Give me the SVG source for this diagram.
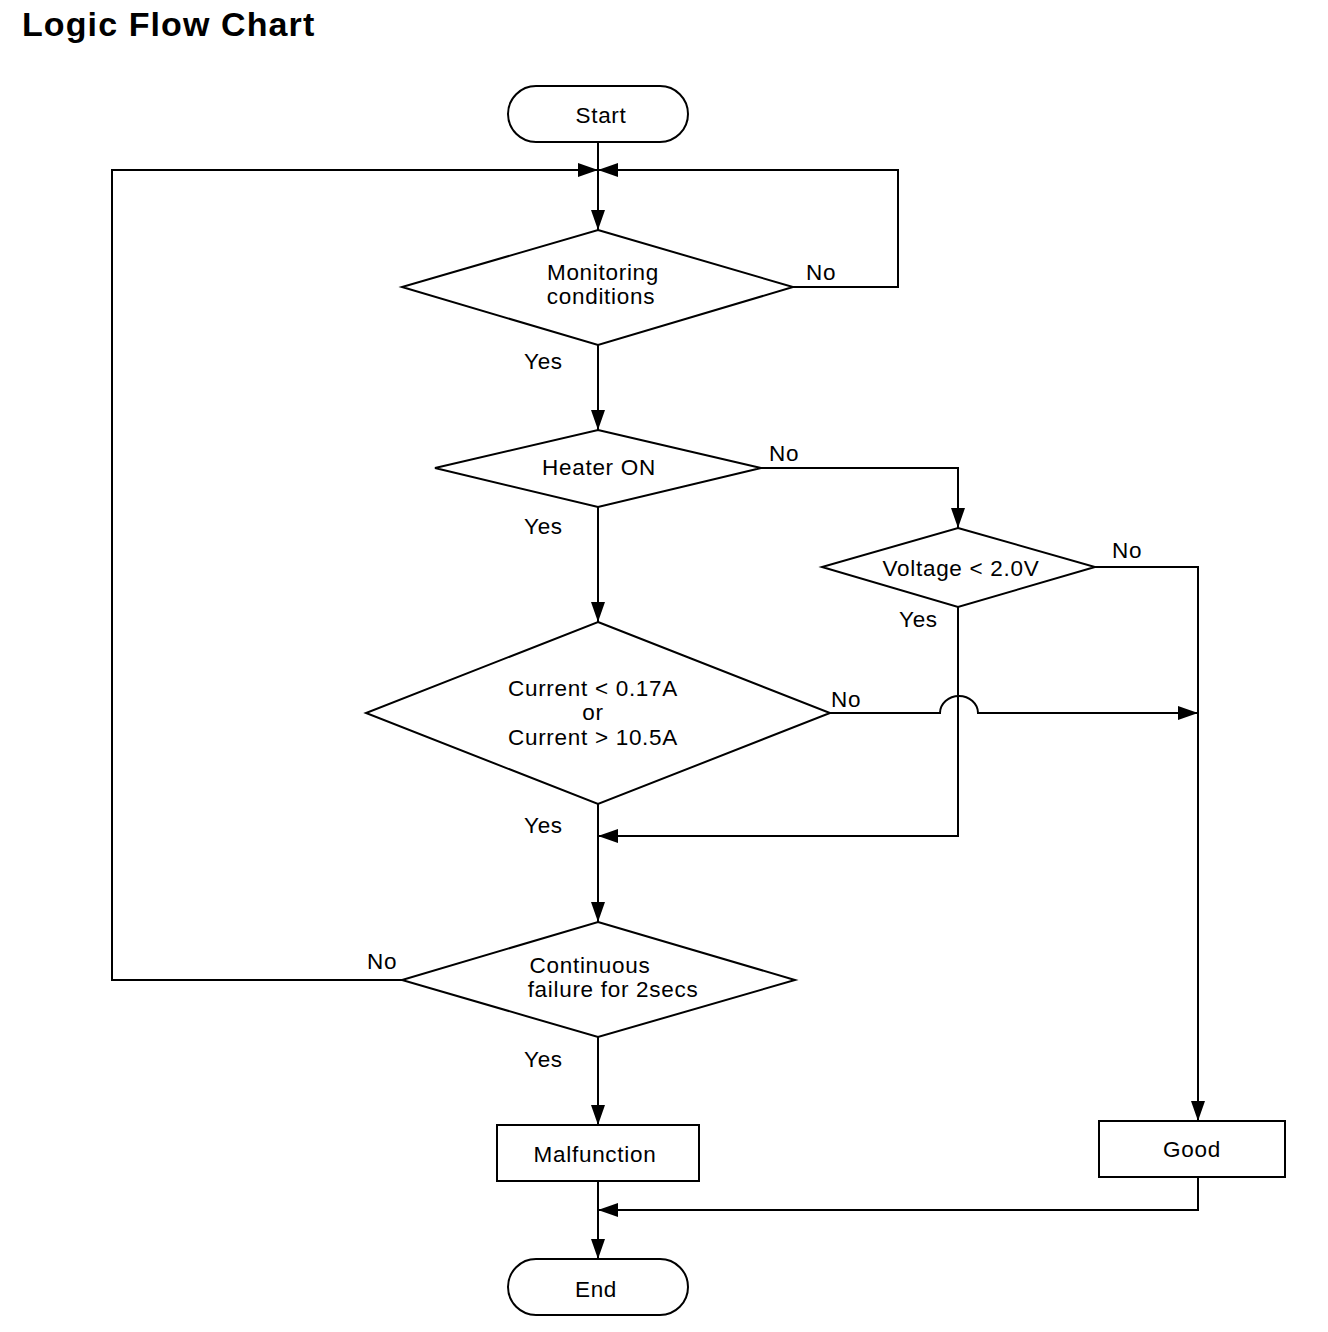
<svg xmlns="http://www.w3.org/2000/svg" width="1328" height="1332" viewBox="0 0 1328 1332">
<style>
.s{fill:#fff;stroke:#000;stroke-width:2}
.c{fill:none;stroke:#000;stroke-width:2}
text{font-family:"Liberation Sans",Arial,sans-serif;font-size:22.5px;letter-spacing:0.7px;fill:#000}
.m{text-anchor:middle}
.t{font-size:34px;font-weight:bold;letter-spacing:1.1px}
</style>
<defs>
<marker id="a" viewBox="0 0 20 14" refX="20" refY="7" markerWidth="20" markerHeight="14" markerUnits="userSpaceOnUse" orient="auto">
<path d="M0,0 L20,7 L0,14 z" fill="#000"/>
</marker>
</defs>
<rect width="1328" height="1332" fill="#fff"/>
<text class="t" x="22" y="36">Logic Flow Chart</text>
<g id="connectors">
<path class="c" d="M598,142 V230" />
<path class="c" d="M598,170 V230" marker-end="url(#a)"/>
<path class="c" d="M793,287 H898 V170 H598" marker-end="url(#a)"/>
<path class="c" d="M402,980 H112 V170 H598" marker-end="url(#a)"/>
<path class="c" d="M598,345 V430" marker-end="url(#a)"/>
<path class="c" d="M761,468 H958 V528" marker-end="url(#a)"/>
<path class="c" d="M598,507 V622" marker-end="url(#a)"/>
<path class="c" d="M1095,567 H1198 V1121" marker-end="url(#a)"/>
<path class="c" d="M958,607 V836 H598" marker-end="url(#a)"/>
<path class="c" d="M830,713 H940 A19,17 0 0 1 978,713 H1198" marker-end="url(#a)"/>
<path class="c" d="M598,804 V922" marker-end="url(#a)"/>
<path class="c" d="M598,1037 V1125" marker-end="url(#a)"/>
<path class="c" d="M1198,1177 V1210 H598" marker-end="url(#a)"/>
<path class="c" d="M598,1181 V1259" marker-end="url(#a)"/>
<text x="806" y="280">No</text>
<text x="524" y="369">Yes</text>
<text x="769" y="461">No</text>
<text x="524" y="534">Yes</text>
<text x="1112" y="558">No</text>
<text x="899" y="627">Yes</text>
<text x="831" y="707">No</text>
<text x="524" y="833">Yes</text>
<text x="367" y="969">No</text>
<text x="524" y="1067">Yes</text>
</g>
<g id="start">
<rect class="s" x="508" y="86" width="180" height="56" rx="28"/>
<text class="m" x="601" y="123">Start</text>
</g>
<g id="monitoring">
<path class="s" d="M598,230 L793,287 L598,345 L402,287 z"/>
<text class="m" x="603" y="280">Monitoring</text>
<text class="m" x="601" y="304">conditions</text>
</g>
<g id="heater">
<path class="s" d="M598,430 L761,468 L598,507 L435,468 z"/>
<text class="m" x="599" y="475">Heater ON</text>
</g>
<g id="voltage">
<path class="s" d="M958,528 L1095,567 L958,607 L822,567 z"/>
<text class="m" x="961" y="576">Voltage &lt; 2.0V</text>
</g>
<g id="current">
<path class="s" d="M598,622 L830,713 L598,804 L366,713 z"/>
<text class="m" x="593" y="696">Current &lt; 0.17A</text>
<text class="m" x="593" y="720">or</text>
<text class="m" x="593" y="745">Current &gt; 10.5A</text>
</g>
<g id="continuous">
<path class="s" d="M598,922 L795,980 L598,1037 L402,980 z"/>
<text class="m" x="590" y="973">Continuous</text>
<text class="m" x="613" y="997">failure for 2secs</text>
</g>
<g id="malfunction">
<rect class="s" x="497" y="1125" width="202" height="56"/>
<text class="m" x="595" y="1162">Malfunction</text>
</g>
<g id="good">
<rect class="s" x="1099" y="1121" width="186" height="56"/>
<text class="m" x="1192" y="1157">Good</text>
</g>
<g id="end">
<rect class="s" x="508" y="1259" width="180" height="56" rx="28"/>
<text class="m" x="596" y="1297">End</text>
</g>
</svg>
